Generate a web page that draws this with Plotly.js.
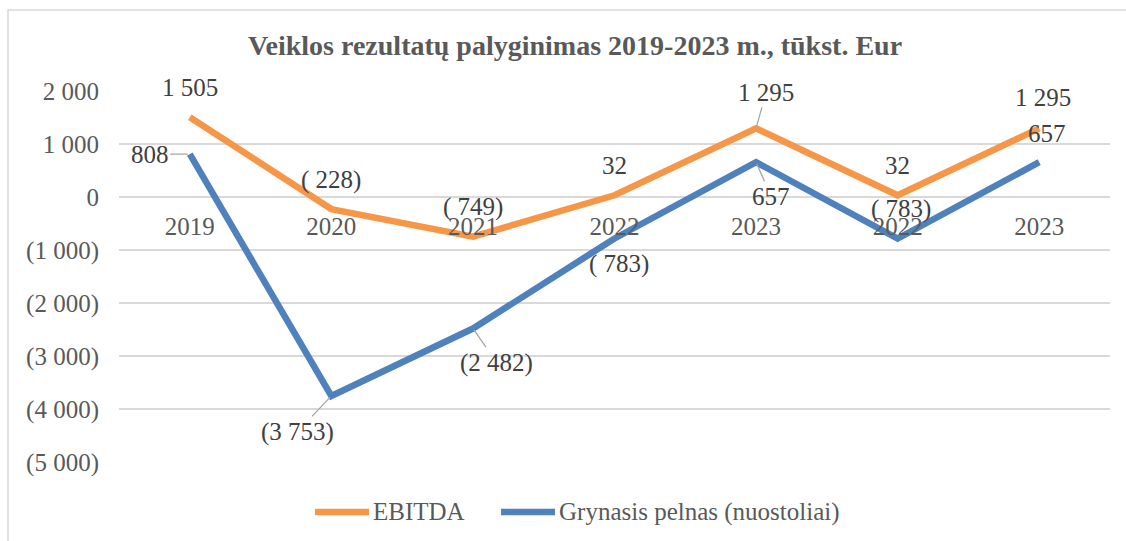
<!DOCTYPE html>
<html>
<head>
<meta charset="utf-8">
<script src="https://cdn.plot.ly/plotly-3.0.1.min.js"></script>
<style>
  html, body { margin: 0; padding: 0; background: #fff; }
  #chart { width: 1126px; height: 541px; }
</style>
</head>
<body>
<div id="chart"></div>
<script>
// ---- data ----
const categories = ["2019", "2020", "2021", "2022", "2023", "2022", "2023"];
const ebitda = [1505, -228, -749, 32, 1295, 32, 1295];
const netProfit = [808, -3753, -2482, -783, 657, -783, 657];
const yTickVals = [2000, 1000, 0, -1000, -2000, -3000, -4000, -5000];
const seriesNames = ["EBITDA", "Grynasis pelnas (nuostoliai)"];
const chartTitle = "Veiklos rezultatų palyginimas 2019-2023 m., tūkst. Eur";

// ---- label placement (pixels relative to point) ----
const ebitdaLabelPos = [
  {dx: 0, dy: -30}, {dx: 0, dy: -29}, {dx: 0, dy: -30}, {dx: 0, dy: -30},
  {dx: 10, dy: -36, leader: true}, {dx: 0, dy: -30}, {dx: 4, dy: -31}
];
const netLabelPos = [
  {dx: -40, dy: 0, leader: true}, {dx: -34, dy: 36, leader: true},
  {dx: 24, dy: 34, leader: true}, {dx: 4, dy: 25},
  {dx: 15, dy: 34, leader: true}, {dx: 3, dy: -30}, {dx: 8, dy: -29}
];

function fmtThousands(v) {
  return String(Math.abs(v)).replace(/\B(?=(\d{3})+(?!\d))/g, " ");
}
function fmtLabel(v) {
  if (v < 0) return "(" + (Math.abs(v) < 1000 ? " " : "") + fmtThousands(v) + ")";
  return fmtThousands(v);
}
function fmtTick(v) {
  if (v < 0) return "(" + fmtThousands(v) + ")";
  return fmtThousands(v);
}

const FONT = "Liberation Serif";
const FS = 25;
const xIdx = categories.map((c, i) => i);
const colors = ["#F79646", "#4F81BD"];

const traces = [
  {x: xIdx, y: ebitda, name: seriesNames[0], type: "scatter", mode: "lines",
   line: {color: colors[0], width: 6.5}, hoverinfo: "skip", showlegend: false},
  {x: xIdx, y: netProfit, name: seriesNames[1], type: "scatter", mode: "lines",
   line: {color: colors[1], width: 6.5}, hoverinfo: "skip", showlegend: false}
];

function makeAnn(vals, pos) {
  return vals.map((v, i) => {
    const p = pos[i];
    const base = {x: xIdx[i], y: v, xref: "x", yref: "y", text: fmtLabel(v),
      font: {family: FONT, size: FS, color: "#404040"}};
    if (p.leader) {
      return Object.assign(base, {showarrow: true, ax: p.dx, ay: p.dy,
        axref: "pixel", ayref: "pixel", arrowhead: 0, arrowwidth: 1.3,
        arrowcolor: "#A6A6A6", standoff: 2});
    }
    return Object.assign(base, {showarrow: false, xshift: p.dx, yshift: -p.dy});
  });
}

const W = 1126, H = 541;
const margin = {l: 119, r: 16, t: 91, b: 79};
const plotW = W - margin.l - margin.r;
const plotH = H - margin.t - margin.b;
const yMin = -5000, yMax = 2000;
const px2x = px => (px - margin.l) / plotW;
const py2y = py => (margin.t + plotH - py) / plotH;

// custom legend (line keys 54px long, as in the reference)
const legendItems = [{x0: 315, x1: 369}, {x0: 501, x1: 555}];
const legendY = 512;
const legendShapes = legendItems.map((it, i) => ({
  type: "line", xref: "paper", yref: "paper",
  x0: px2x(it.x0), x1: px2x(it.x1), y0: py2y(legendY), y1: py2y(legendY),
  line: {color: colors[i], width: 6.5}}));
const legendTexts = legendItems.map((it, i) => ({
  xref: "paper", yref: "paper", x: px2x(it.x1 + 2), y: py2y(legendY),
  xanchor: "left", yanchor: "middle", showarrow: false, text: seriesNames[i],
  font: {family: FONT, size: FS, color: "#595959"}}));

const layout = {
  width: W, height: H,
  margin: margin,
  paper_bgcolor: "#fff", plot_bgcolor: "#fff",
  font: {family: FONT, size: FS, color: "#595959"},
  title: {text: "<b>" + chartTitle + "</b>", font: {family: FONT, size: 28, color: "#595959"},
          x: 575 / W, xref: "container", xanchor: "center", y: 1 - 45 / H, yanchor: "middle"},
  showlegend: false,
  xaxis: {range: [-0.5, 6.5], tickvals: xIdx, ticktext: categories, showgrid: false,
          zeroline: false, showline: false, ticks: "", anchor: "free",
          position: (0 - yMin) / (yMax - yMin), ticklabelstandoff: 12,
          tickfont: {family: FONT, size: FS, color: "#595959"}, fixedrange: true},
  yaxis: {range: [yMin, yMax], tickvals: yTickVals, ticktext: yTickVals.map(fmtTick),
          showgrid: true, gridcolor: "#D9D9D9", gridwidth: 1.5, zeroline: false,
          showline: false, ticks: "", ticklabelstandoff: 19,
          tickfont: {family: FONT, size: FS, color: "#595959"}, fixedrange: true},
  annotations: makeAnn(ebitda, ebitdaLabelPos).concat(makeAnn(netProfit, netLabelPos), legendTexts),
  shapes: [{type: "rect", xref: "paper", yref: "paper", layer: "below",
            x0: px2x(8), x1: px2x(1200), y0: py2y(700), y1: py2y(10),
            line: {color: "#D9D9D9", width: 1.5}, fillcolor: "rgba(0,0,0,0)"}].concat(legendShapes)
};

Plotly.newPlot("chart", traces, layout, {displayModeBar: false, staticPlot: true});
</script>
</body>
</html>
